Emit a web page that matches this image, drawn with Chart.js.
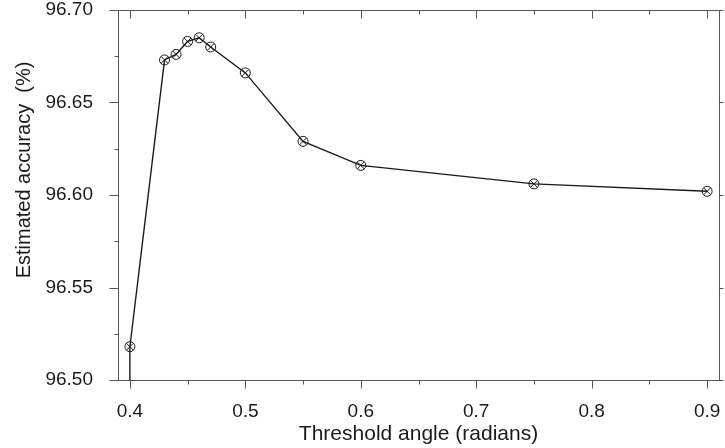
<!DOCTYPE html>
<html>
<head>
<meta charset="utf-8">
<script src="https://cdn.jsdelivr.net/npm/chart.js@4"></script>
<style>
  html, body { margin: 0; padding: 0; background: #fff; }
  #wrap { width: 725px; height: 448px; }
</style>
</head>
<body>
<div id="wrap"><canvas id="chart"></canvas></div>
<script>
// threshold angle vs estimated accuracy (first point falls below the axis, no marker)
const thresholds = [0.40, 0.40, 0.43, 0.44, 0.45, 0.46, 0.47, 0.50, 0.55, 0.60, 0.75, 0.90];
const accuracy   = [96.45, 96.518, 96.673, 96.676, 96.683, 96.685, 96.680, 96.666, 96.629, 96.616, 96.606, 96.602];
const markerOn   = [false, true, true, true, true, true, true, true, true, true, true, true];

const xTicks      = [0.4, 0.5, 0.6, 0.7, 0.8, 0.9];
const xMinorTicks = [0.45, 0.55, 0.65, 0.75, 0.85];
const yTicks      = [96.50, 96.55, 96.60, 96.65, 96.70];
const yMinorTicks = [96.525, 96.575, 96.625, 96.675];

const FONT = 'Liberation Sans, Arial, sans-serif';
const INK = '#1a1a1a';
const FRAME = '#555';

const points = thresholds.map((x, i) => ({ x, y: accuracy[i] }));
const radii = markerOn.map(m => m ? 5 : 0);

// frame + tick marks (outward on left/bottom/right, inward on top)
const frameTicks = {
  id: 'frameTicks',
  afterDraw(chart) {
    const { ctx, chartArea: a, scales: { x, y } } = chart;
    ctx.save();
    ctx.strokeStyle = FRAME;
    ctx.lineWidth = 1;
    const seg = (x1, y1, x2, y2) => {
      ctx.beginPath();
      ctx.moveTo(Math.round(x1) + 0.5, Math.round(y1) + 0.5);
      ctx.lineTo(Math.round(x2) + 0.5, Math.round(y2) + 0.5);
      ctx.stroke();
    };
    seg(a.left, a.top, a.right, a.top);
    seg(a.left, a.bottom, a.right, a.bottom);
    seg(a.left, a.top, a.left, a.bottom);
    seg(a.right, a.top, a.right, a.bottom);

    xTicks.forEach(v => {
      const px = x.getPixelForValue(v);
      seg(px, a.bottom, px, a.bottom + 8);
      seg(px, a.top, px, a.top + 8);
    });
    xMinorTicks.forEach(v => {
      const px = x.getPixelForValue(v);
      seg(px, a.bottom, px, a.bottom + 4);
      seg(px, a.top, px, a.top + 4);
    });
    yTicks.forEach(v => {
      const py = y.getPixelForValue(v);
      seg(a.left - 9, py, a.left, py);
      seg(a.right, py, a.right + 4, py);
    });
    yMinorTicks.forEach(v => {
      const py = y.getPixelForValue(v);
      seg(a.left - 4, py, a.left, py);
    });
    ctx.restore();
  }
};

new Chart(document.getElementById('chart'), {
  type: 'scatter',
  data: {
    datasets: [
      {
        data: points,
        showLine: true,
        borderColor: INK,
        borderWidth: 1.4,
        tension: 0,
        pointStyle: 'circle',
        pointRadius: radii,
        pointBorderColor: INK,
        pointBorderWidth: 1,
        pointBackgroundColor: 'rgba(255,255,255,0)',
      },
      {
        data: points,
        showLine: false,
        pointStyle: 'crossRot',
        pointRadius: radii,
        pointBorderColor: INK,
        pointBorderWidth: 1,
      },
    ],
  },
  options: {
    responsive: true,
    maintainAspectRatio: false,
    animation: false,
    layout: { padding: { top: 10, right: 3, left: 0, bottom: 0 } },
    plugins: {
      legend: { display: false },
      tooltip: { enabled: false },
    },
    scales: {
      x: {
        type: 'linear',
        min: 0.3897,
        max: 0.9103,
        afterBuildTicks: s => { s.ticks = xTicks.map(v => ({ value: v })); },
        afterFit: s => { s.height = 68; s.paddingLeft = 0; s.paddingRight = 0; },
        grid: { display: false },
        border: { display: false },
        ticks: {
          color: INK, padding: 12, maxRotation: 0,
          font: { family: FONT, size: 19 },
          callback: v => v.toFixed(1),
        },
        title: {
          display: true, text: 'Threshold angle (radians)', color: INK,
          font: { family: FONT, size: 21 }, padding: { top: 0, bottom: 1 },
        },
      },
      y: {
        min: 96.50,
        max: 96.70,
        afterBuildTicks: s => { s.ticks = yTicks.map(v => ({ value: v })); },
        afterFit: s => { s.width = 118; s.paddingTop = 0; s.paddingBottom = 0; },
        grid: { display: false },
        border: { display: false },
        ticks: {
          color: INK, padding: 17,
          font: { family: FONT, size: 19 },
          callback: v => v.toFixed(2),
        },
        title: {
          // leading no-break spaces nudge the centred title up, as in the original
          display: true, text: '\u00a0'.repeat(9) + 'Estimated accuracy  (%)', color: INK,
          font: { family: FONT, size: 20 }, padding: { top: 12, bottom: 0 },
        },
      },
    },
  },
  plugins: [frameTicks],
});
</script>
</body>
</html>
